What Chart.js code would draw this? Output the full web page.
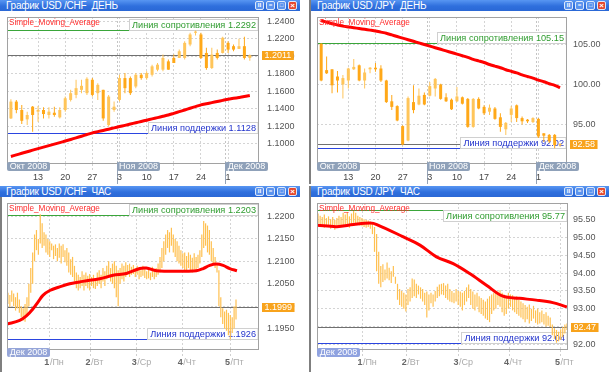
<!DOCTYPE html>
<html>
<head>
<meta charset="utf-8">
<script src="https://cdn.jsdelivr.net/npm/chart.js@4.4.1/dist/chart.umd.min.js"></script>
<style>
  body { margin: 0; background: #fff; width: 610px; height: 372px; overflow: hidden; position: relative;
         font-family: "Liberation Sans", Arial, sans-serif; }
  .panel { position: absolute; background: #fff; }
  .panel canvas { position: absolute; left: 0; top: 0; }
  .title { position: absolute; top: 0; height: 11px; line-height: 11px; font-size: 10px; letter-spacing: -0.25px; color: #fff;
           padding-left: 6px; box-sizing: border-box; white-space: pre;
           background: linear-gradient(to bottom, #5896f2 0%, #2f6fdd 55%, #2a68d6 100%); }
  .btns { position: absolute; right: 3px; top: 1px; height: 9px; letter-spacing: 0; }
  .b { display: inline-block; width: 7px; height: 7px; margin-left: 2px; border: 1px solid #dce8fb; border-radius: 2px;
       background: #5b93ee; color: #fff; font: bold 6px/7px Arial, sans-serif; text-align: center; vertical-align: top; }
  .b.x { background: #e5482e; font-size: 8px; }
  .edge { position: absolute; width: 2px; background: #7f7f7f; }
</style>
</head>
<body>

<div class="panel" style="left:0;top:0;width:303px;height:184px">
  <canvas id="chfDay" width="303" height="184"></canvas>
  <div class="title" style="left:0;width:300px">График USD /CHF  ДЕНЬ<span class="btns"><span class="b">II</span><span class="b">=</span><span class="b">□</span><span class="b x">×</span></span></div>
</div>
<div class="panel" style="left:309px;top:0;width:301px;height:184px">
  <canvas id="jpyDay" width="301" height="184"></canvas>
  <div class="title" style="left:2px;width:298px">График USD /JPY  ДЕНЬ<span class="btns"><span class="b">II</span><span class="b">=</span><span class="b">□</span><span class="b x">×</span></span></div>
</div>
<div class="panel" style="left:0;top:186px;width:303px;height:186px">
  <canvas id="chfHour" width="303" height="186"></canvas>
  <div class="title" style="left:0;width:300px">График USD /CHF  ЧАС<span class="btns"><span class="b">II</span><span class="b">=</span><span class="b">□</span><span class="b x">×</span></span></div>
</div>
<div class="panel" style="left:309px;top:186px;width:301px;height:186px">
  <canvas id="jpyHour" width="301" height="186"></canvas>
  <div class="title" style="left:2px;width:298px">График USD /JPY  ЧАС<span class="btns"><span class="b">II</span><span class="b">=</span><span class="b">□</span><span class="b x">×</span></span></div>
</div>
<div class="edge" style="left:309px;top:0;height:184px"></div>
<div class="edge" style="left:309px;top:186px;height:186px"></div>
<div class="edge" style="left:0;top:197px;height:175px"></div>

<script>
// ---- daily axis (6 Oct - 5 Dec 2008) ----
var dayTickIdx = [5, 10, 15, 20, 25, 30, 35, 40];
var dayTickLabels = ['13', '20', '27', '3', '10', '17', '24', '1'];
var dayMonthNames = ['Окт 2008', 'Ноя 2008', 'Дек 2008'];
var dayMonthStarts = [null, 19.5, 39.5];

// ---- hourly axis (1 - 5 Dec 2008) ----
var hourDayNums = ['1', '2', '3', '4', '5'];
var hourDayNames = ['/Пн', '/Вт', '/Ср', '/Чт', '/Пт'];
var hourMonthNames = ['Дек 2008'];
var hourMonthStarts = [null];

// ---- USD/CHF daily ----
var chfDayOpen  = [1.1289,1.1481,1.1385,1.1278,1.1423,1.1366,1.1385,1.1328,1.1354,1.1301,1.1385,1.1500,1.1557,1.1615,1.1577,1.1730,1.1577,1.1615,1.1213,1.1385,1.1500,1.1749,1.1749,1.1653,1.1787,1.1749,1.1787,1.1845,1.1845,1.1940,1.1979,1.1979,1.1979,1.2132,1.2266,1.2247,1.2036,1.1864,1.2036,1.2036,1.2151,1.2113,1.2082,1.2113,1.1979];
var chfDayHigh  = [1.1508,1.1500,1.1443,1.1366,1.1431,1.1431,1.1416,1.1416,1.1423,1.1416,1.1538,1.1615,1.1730,1.1730,1.1760,1.1749,1.1691,1.1615,1.1557,1.1481,1.1787,1.1807,1.1768,1.1807,1.1807,1.1826,1.1902,1.1921,1.2017,1.1960,1.2017,1.2074,1.2170,1.2266,1.2292,1.2266,1.2094,1.2094,1.2074,1.2220,1.2170,1.2132,1.2197,1.2220,1.2017];
var chfDayLow   = [1.1282,1.1347,1.1224,1.1213,1.1136,1.1251,1.1289,1.1289,1.1308,1.1289,1.1366,1.1481,1.1519,1.1577,1.1557,1.1538,1.1500,1.1262,1.1201,1.1366,1.1481,1.1577,1.1557,1.1634,1.1730,1.1730,1.1768,1.1826,1.1826,1.1845,1.1921,1.1979,1.1960,1.2113,1.2235,1.1967,1.1845,1.1852,1.1960,1.2029,1.2036,1.2055,1.2082,1.1960,1.1948];
var chfDayClose = [1.1481,1.1385,1.1262,1.1328,1.1328,1.1385,1.1339,1.1366,1.1328,1.1385,1.1519,1.1577,1.1634,1.1661,1.1741,1.1557,1.1672,1.1289,1.1538,1.1423,1.1749,1.1634,1.1577,1.1787,1.1749,1.1807,1.1883,1.1902,1.1979,1.1845,1.1921,1.2055,1.2151,1.2247,1.2280,1.1979,1.1864,1.2017,1.1979,1.2209,1.2074,1.2074,1.2113,1.1979,1.2011];
var chfDaySma   = [1.0855,1.0873,1.0891,1.0909,1.0927,1.0945,1.0962,1.0979,1.0996,1.1013,1.1031,1.1049,1.1067,1.1086,1.1105,1.1124,1.1138,1.1152,1.1166,1.1181,1.1196,1.1210,1.1225,1.1240,1.1254,1.1269,1.1284,1.1298,1.1313,1.1328,1.1347,1.1366,1.1385,1.1405,1.1424,1.1443,1.1456,1.1469,1.1482,1.1495,1.1508,1.1518,1.1528,1.1538,1.1550];
var chfDayTicks = [1.10, 1.12, 1.14, 1.16, 1.18, 1.20, 1.22, 1.24];
var chfDayLevels = [1.2292, 1.1128, 1.2011];   // resistance, support, last

// ---- USD/JPY daily ----
var jpyDayOpen  = [105.10,101.80,101.90,101.00,100.00,100.50,101.90,102.40,100.50,101.90,102.10,102.00,100.50,97.90,97.30,94.80,93.00,97.80,97.50,98.70,98.60,99.50,100.00,98.40,98.10,97.90,98.40,98.20,94.70,98.20,97.20,96.60,97.00,95.90,94.40,96.20,97.40,95.80,95.60,95.30,95.70,93.90,93.70,93.70,92.40];
var jpyDayHigh  = [105.15,103.50,101.90,101.70,101.20,102.10,103.20,102.50,102.00,102.20,102.70,102.40,100.60,98.70,97.40,94.90,98.50,99.90,99.50,99.00,100.30,100.80,100.10,98.90,98.25,99.70,98.50,98.30,98.30,98.40,97.40,97.50,97.20,96.40,95.30,97.30,97.50,96.00,95.70,95.90,95.80,93.90,93.80,93.80,92.70];
var jpyDayLow   = [100.40,101.30,98.90,99.00,98.25,99.50,101.80,100.40,99.50,101.40,101.60,100.30,97.70,96.80,95.40,92.40,92.90,96.40,97.40,97.40,98.50,98.50,98.10,97.80,96.80,97.80,97.50,94.60,94.60,96.90,96.20,96.20,95.60,94.10,93.70,95.30,95.30,95.00,95.20,95.20,93.30,92.80,92.70,92.02,92.20];
var jpyDayClose = [100.50,101.40,99.90,100.50,100.80,102.00,102.20,100.50,101.50,102.10,101.90,100.50,97.80,97.20,95.50,92.50,98.30,96.80,98.60,97.50,99.80,100.70,98.20,97.90,96.90,98.50,97.60,94.70,98.20,97.00,96.40,97.10,95.70,94.70,95.20,97.00,95.80,95.40,95.40,95.80,93.50,93.60,92.90,92.40,92.58];
var jpyDaySma   = [108.0,107.8,107.6,107.45,107.3,107.2,107.1,107.0,106.9,106.8,106.7,106.55,106.4,106.2,106.0,105.8,105.6,105.4,105.2,105.0,104.8,104.6,104.4,104.2,104.0,103.8,103.6,103.4,103.15,102.95,102.75,102.5,102.3,102.1,101.85,101.65,101.45,101.2,101.0,100.8,100.55,100.35,100.1,99.9,99.6];
var jpyDayTicks = [95, 100, 105];
var jpyDayLevels = [105.15, 92.02, 92.58];

// ---- USD/CHF hourly ----
var chfHourHigh = [1.2030,1.2025,1.2035,1.2028,1.2020,1.2030,1.2015,1.2000,1.1995,1.2005,1.2020,1.2050,1.2085,1.2120,1.2160,1.2170,1.2150,1.2205,1.2185,1.2165,
                   1.2160,1.2150,1.2145,1.2140,1.2135,1.2138,1.2130,1.2140,1.2135,1.2138,1.2125,1.2130,1.2120,1.2105,1.2110,1.2090,1.2075,1.2070,1.2065,1.2078,
                   1.2070,1.2075,1.2068,1.2072,1.2065,1.2070,1.2062,1.2075,1.2080,1.2070,1.2085,1.2078,1.2090,1.2100,1.2085,1.2095,1.2100,1.2090,1.2080,1.2085,
                   1.2095,1.2090,1.2098,1.2092,1.2095,1.2088,1.2092,1.2085,1.2090,1.2085,1.2080,1.2090,1.2085,1.2078,1.2082,1.2075,1.2088,1.2080,1.2085,1.2095,
                   1.2110,1.2130,1.2145,1.2160,1.2170,1.2165,1.2175,1.2160,1.2150,1.2145,1.2135,1.2125,1.2118,1.2120,1.2112,1.2120,1.2115,1.2108,1.2118,1.2110,
                   1.2115,1.2125,1.2160,1.2190,1.2185,1.2180,1.2170,1.2145,1.2130,1.2110,1.2095,1.2080,1.2020,1.1995,1.1988,1.1992,1.1985,1.1980,1.1975,1.2000,1.2015];
var chfHourLow  = [1.2005,1.1998,1.2010,1.2000,1.1990,1.1995,1.1985,1.1975,1.1968,1.1965,1.1980,1.2000,1.2030,1.2050,1.2100,1.2125,1.2115,1.2140,1.2130,1.2135,
                   1.2120,1.2115,1.2110,1.2125,1.2105,1.2112,1.2100,1.2108,1.2095,1.2110,1.2098,1.2090,1.2075,1.2070,1.2065,1.2055,1.2040,1.2035,1.2040,1.2045,
                   1.2035,1.2045,1.2040,1.2035,1.2045,1.2040,1.2038,1.2045,1.2050,1.2040,1.2055,1.2045,1.2060,1.2065,1.2055,1.2050,1.2040,1.2020,1.2000,1.2050,
                   1.2060,1.2055,1.2065,1.2070,1.2065,1.2070,1.2072,1.2065,1.2070,1.2060,1.2065,1.2068,1.2063,1.2060,1.2062,1.2058,1.2065,1.2060,1.2065,1.2070,
                   1.2075,1.2085,1.2100,1.2115,1.2130,1.2120,1.2135,1.2120,1.2110,1.2100,1.2095,1.2090,1.2085,1.2080,1.2078,1.2085,1.2080,1.2075,1.2082,1.2078,
                   1.2085,1.2095,1.2110,1.2130,1.2135,1.2120,1.2115,1.2100,1.2095,1.2085,1.2075,1.2000,1.1975,1.1960,1.1950,1.1945,1.1935,1.1926,1.1940,1.1950,1.1970];
var chfHourSmaX = [0, 6.7, 10.2, 13.7, 16.3, 18.9, 22.5, 27.7, 33, 38.2, 43.5, 48.8, 55.8, 62.8, 69.8, 73.3, 78.6, 83.9, 94.4, 99.6, 103.2, 106.7, 110.2, 113.7, 117.2, 121];
var chfHourSmaY = [1.1960,1.1968,1.1978,1.1994,1.2009,1.2024,1.2035,1.2043,1.2050,1.2054,1.2058,1.2061,1.2069,1.2073,1.2084,1.2085,1.2079,1.2078,1.2078,1.2079,1.2084,1.2091,1.2094,1.2091,1.2084,1.2079];
var chfHourTicks = [1.195, 1.200, 1.205, 1.210, 1.215, 1.220];
var chfHourDays = [22.3, 44, 68.3, 92.5, 117.4];
var chfHourLevels = [1.2203, 1.1926, 1.1999];

// ---- USD/JPY hourly ----
var jpyHourHigh = [95.68,95.62,95.58,95.65,95.55,95.60,95.52,95.58,95.50,95.55,95.62,95.58,95.70,95.65,95.72,95.60,95.68,95.75,95.70,95.62,
                   95.58,95.55,95.52,95.50,95.48,95.45,95.40,95.30,95.10,94.60,94.20,94.25,94.10,94.30,94.15,94.05,94.20,93.90,93.70,93.55,
                   93.50,93.45,93.40,93.55,93.60,93.85,93.82,93.70,93.65,93.60,93.55,93.45,93.48,93.40,93.45,93.40,93.50,93.62,93.68,93.70,
                   93.72,93.65,93.70,93.55,93.50,93.45,93.55,93.50,93.48,93.45,93.50,93.60,93.68,93.55,93.48,93.40,93.45,93.35,93.30,93.25,
                   93.20,93.28,93.35,93.40,93.45,93.50,93.48,93.52,93.45,93.40,93.35,93.45,93.40,93.38,93.30,93.35,93.25,93.20,93.15,93.10,
                   93.05,93.12,93.00,93.08,92.95,93.00,92.90,92.95,92.85,92.90,92.80,92.75,92.55,92.45,92.40,92.35,92.42,92.48,92.55,92.58];
var jpyHourLow  = [95.40,95.30,95.35,95.28,95.30,95.32,95.25,95.30,95.22,95.28,95.33,95.30,95.35,95.30,95.38,95.28,95.35,95.42,95.40,95.36,
                   95.34,95.32,95.30,95.28,95.30,95.25,95.10,94.60,94.05,93.70,93.60,93.75,93.80,93.85,93.80,93.72,93.90,93.70,93.25,93.10,
                   93.05,93.00,92.92,93.10,93.20,93.30,93.35,93.30,93.40,93.28,93.20,93.10,92.75,92.95,93.15,93.05,93.20,93.30,93.35,93.40,
                   93.38,93.30,93.25,93.20,93.18,93.15,93.20,93.10,93.05,92.95,93.10,93.20,93.30,93.10,93.00,92.95,93.05,92.90,92.85,92.80,
                   92.72,92.68,92.62,92.85,92.95,93.00,93.10,93.05,92.90,92.80,92.85,93.00,93.05,92.95,92.90,92.85,92.80,92.75,92.70,92.62,
                   92.70,92.58,92.65,92.72,92.60,92.55,92.58,92.62,92.55,92.50,92.52,92.48,92.25,92.15,92.04,92.08,92.12,92.20,92.30,92.40];
var jpyHourSmaX = [0, 9.5, 17.5, 25.4, 28.6, 41.3, 49.2, 57.1, 65.1, 73, 81, 88.9, 96.8, 104.8, 112.7, 119.5];
var jpyHourSmaY = [95.35,95.31,95.37,95.41,95.37,95.02,94.79,94.46,94.27,93.99,93.66,93.35,93.29,93.24,93.17,93.05];
var jpyHourTicks = [92.0, 92.5, 93.0, 93.5, 94.0, 94.5, 95.0, 95.5];
var jpyHourDays = [21.7, 42.9, 67.6, 91.8, 116.2];
var jpyHourLevels = [95.77, 92.04, 92.47];

var FONT = '"Liberation Sans", Arial, sans-serif';
Chart.defaults.font.family = FONT;

// horizontal level line across the plot
function levelLine(ctx, ca, ys, v, color) {
    var y = Math.round(ys.getPixelForValue(v)) + 0.5;
    ctx.strokeStyle = color;
    ctx.lineWidth = 1;
    ctx.beginPath();
    ctx.moveTo(ca.left, y);
    ctx.lineTo(ca.right, y);
    ctx.stroke();
}

// boxed caption at the right end of a level line
function levelCaption(ctx, ca, ys, text, v, color) {
    var y = Math.round(ys.getPixelForValue(v)) + 0.5;
    ctx.font = '9.2px ' + FONT;
    var w = ctx.measureText(text).width;
    var bx = Math.round(ca.right - w - 6) + 0.5;
    var below = (y - ca.top) < 12;
    var top = below ? y : y - 11;
    ctx.fillStyle = '#fff';
    ctx.fillRect(bx, top, ca.right - bx, 11);
    ctx.strokeStyle = '#d0d0d0';
    ctx.strokeRect(bx, top, ca.right - bx - 1, 11);
    ctx.fillStyle = color;
    ctx.textAlign = 'left';
    ctx.textBaseline = 'middle';
    ctx.fillText(text, ca.right - w - 3, top + 6);
}

function makeChart(id, c) {
    var canvas = document.getElementById(id);
    var W = canvas.width, H = canvas.height;
    var datasets = [];
    var smaData = c.smaX
        ? c.smaX.map(function (x, i) { return { x: x, y: c.smaY[i] }; })
        : c.smaY.map(function (y, i) { return { x: i, y: y }; });
    datasets.push({
        type: 'line', data: smaData, borderColor: '#ff0000', borderWidth: 3,
        pointRadius: 0, tension: c.smaX ? 0.35 : 0.2, order: 0
    });

    if (c.open) {
        var colors = c.open.map(function (o, i) { return c.close[i] >= o ? '#ffc55a' : '#ffa818'; });
        datasets.push({
            data: c.open.map(function (o, i) { return { x: i, y: [o, c.close[i]] }; }),
            backgroundColor: colors, grouped: false, barPercentage: 1, maxBarThickness: 3,
            minBarLength: 1, order: 1
        });
        datasets.push({
            data: c.high.map(function (h, i) { return { x: i, y: [c.low[i], h] }; }),
            backgroundColor: colors, grouped: false, barPercentage: 1, maxBarThickness: 1, order: 2
        });
    } else {
        datasets.push({
            data: c.high.map(function (h, i) { return { x: i + 0.5, y: [c.low[i], h] }; }),
            backgroundColor: '#ffc050', grouped: false, barPercentage: 1, maxBarThickness: 1.2, order: 1
        });
    }

    var overlay = {
        id: 'overlay',
        beforeDatasetsDraw: function (chart) {
            var ctx = chart.ctx, ca = chart.chartArea, ys = chart.scales.y, xs = chart.scales.x;
            ctx.save();
            // month splits inside the plot
            c.monthStarts.forEach(function (m) {
                if (m === null) return;
                var x = Math.round(xs.getPixelForValue(m)) + 0.5;
                ctx.strokeStyle = '#c4c4c4';
                ctx.setLineDash([2, 2]);
                ctx.beginPath(); ctx.moveTo(x, ca.top); ctx.lineTo(x, ca.bottom); ctx.stroke();
                ctx.setLineDash([]);
            });
            levelLine(ctx, ca, ys, c.levels[2], '#707070');
            levelLine(ctx, ca, ys, c.levels[0], '#3aa63a');
            levelLine(ctx, ca, ys, c.levels[1], '#2b45e0');
            levelCaption(ctx, ca, ys, 'Линия сопротивления ' + c.levels[0].toFixed(c.dec), c.levels[0], '#2f9c2f');
            levelCaption(ctx, ca, ys, 'Линия поддержки ' + c.levels[1].toFixed(c.dec), c.levels[1], '#2233cc');
            ctx.restore();
        },
        afterDraw: function (chart) {
            var ctx = chart.ctx, ca = chart.chartArea, ys = chart.scales.y, xs = chart.scales.x;
            ctx.save();
            // plot frame
            ctx.strokeStyle = '#a2a2a2';
            ctx.lineWidth = 1;
            ctx.strokeRect(ca.left + 0.5, ca.top + 0.5, ca.right - ca.left - 1, ca.bottom - ca.top - 1);

            // indicator name
            ctx.font = '8.2px ' + FONT;
            ctx.fillStyle = '#ff2a2a';
            ctx.textAlign = 'left';
            ctx.textBaseline = 'middle';
            ctx.fillText('Simple_Moving_Average', ca.left + 2, ca.top + 6);

            // last price badge
            var last = c.levels[2];
            var py = Math.round(ys.getPixelForValue(last));
            var pt = last.toFixed(c.dec);
            ctx.font = '9px ' + FONT;
            var pw = ctx.measureText(pt).width + 5;
            ctx.fillStyle = '#f8a31c';
            ctx.fillRect(ca.right + 3, py - 4, pw, 9);
            ctx.fillStyle = '#fff';
            ctx.fillText(pt, ca.right + 5.5, py + 0.5);

            // month badges
            c.monthNames.forEach(function (name, i) {
                var m = c.monthStarts[i];
                var x = m === null ? ca.left : Math.round(xs.getPixelForValue(m));
                var top = ca.bottom - 2;
                if (m !== null) {
                    ctx.strokeStyle = '#95a3b6';
                    ctx.beginPath(); ctx.moveTo(x + 0.5, top); ctx.lineTo(x + 0.5, H); ctx.stroke();
                }
                ctx.fillStyle = c.badge;
                ctx.beginPath();
                ctx.roundRect(x, top, 43, 9, 2);
                ctx.fill();
                ctx.fillStyle = '#fff';
                ctx.font = '9px ' + FONT;
                ctx.textAlign = 'center';
                ctx.fillText(name, x + 21.5, top + 5);
            });

            // x labels
            var ly = ca.bottom + 14;
            if (c.dayLabels) {
                ctx.font = '9px ' + FONT;
                ctx.fillStyle = '#444';
                ctx.textAlign = 'center';
                c.xTicks.forEach(function (t, i) {
                    ctx.fillText(c.dayLabels[i], xs.getPixelForValue(t), ly);
                });
            } else {
                ctx.textAlign = 'left';
                c.xTicks.forEach(function (t, i) {
                    var x = xs.getPixelForValue(t);
                    ctx.font = 'bold 9px ' + FONT;
                    var nw = ctx.measureText(hourDayNums[i]).width;
                    ctx.fillStyle = '#666';
                    ctx.fillText(hourDayNums[i], x - nw, ly - 1);
                    ctx.font = '9px ' + FONT;
                    ctx.fillStyle = '#aaa';
                    ctx.fillText(hourDayNames[i], x + 0.5, ly - 1);
                });
            }
            ctx.restore();
        }
    };

    return new Chart(canvas, {
        type: 'bar',
        data: { datasets: datasets },
        options: {
            responsive: false,
            animation: false,
            devicePixelRatio: 1,
            events: [],
            layout: { padding: { left: c.plot[0], top: 17, right: 0, bottom: 0 } },
            plugins: { legend: { display: false }, tooltip: { enabled: false } },
            scales: {
                x: {
                    type: 'linear', min: c.xRange[0], max: c.xRange[1], offset: false,
                    grid: { offset: false, color: '#d4d4d4', drawTicks: true, tickLength: 8,
                            tickColor: '#d0d0d0', tickBorderDash: [2, 2] },
                    border: { display: false, dash: [2, 2] },
                    ticks: { display: false },
                    afterBuildTicks: function (s) { s.ticks = c.xTicks.map(function (v) { return { value: v }; }); },
                    afterFit: function (s) { s.height = H - 164; }
                },
                y: {
                    type: 'linear', position: 'right', min: c.yRange[0], max: c.yRange[1],
                    grid: { color: '#d4d4d4', drawTicks: false },
                    border: { display: false, dash: [2, 2] },
                    ticks: { color: '#555', font: { size: 9 }, padding: c.tickPad, autoSkip: false,
                             callback: function (v) { return Number(v).toFixed(c.dec); } },
                    afterBuildTicks: function (s) { s.ticks = c.yTicks.map(function (v) { return { value: v }; }); },
                    afterFit: function (s) { s.width = W - c.plot[1]; }
                }
            }
        },
        plugins: [overlay]
    });
}

makeChart('chfDay', {
    open: chfDayOpen, high: chfDayHigh, low: chfDayLow, close: chfDayClose, smaY: chfDaySma,
    levels: chfDayLevels, yTicks: chfDayTicks, dec: 4, yRange: [1.0769, 1.2446],
    xRange: [-0.72, 45.69], xTicks: dayTickIdx, dayLabels: dayTickLabels,
    monthNames: dayMonthNames, monthStarts: dayMonthStarts, badge: '#8fa1b9',
    plot: [7, 259], tickPad: 8
});
makeChart('jpyDay', {
    open: jpyDayOpen, high: jpyDayHigh, low: jpyDayLow, close: jpyDayClose, smaY: jpyDaySma,
    levels: jpyDayLevels, yTicks: jpyDayTicks, dec: 2, yRange: [90.06, 108.44],
    xRange: [-0.77, 45.27], xTicks: dayTickIdx, dayLabels: dayTickLabels,
    monthNames: dayMonthNames, monthStarts: dayMonthStarts, badge: '#8fa1b9',
    plot: [8, 258], tickPad: 6
});
makeChart('chfHour', {
    high: chfHourHigh, low: chfHourLow, smaX: chfHourSmaX, smaY: chfHourSmaY,
    levels: chfHourLevels, yTicks: chfHourTicks, dec: 4, yRange: [1.19020, 1.22304],
    xRange: [0, 132.6], xTicks: chfHourDays,
    monthNames: hourMonthNames, monthStarts: hourMonthStarts, badge: '#95a5d8',
    plot: [7, 259], tickPad: 8
});
makeChart('jpyHour', {
    high: jpyHourHigh, low: jpyHourLow, smaX: jpyHourSmaX, smaY: jpyHourSmaY,
    levels: jpyHourLevels, yTicks: jpyHourTicks, dec: 2, yRange: [91.835, 95.976],
    xRange: [0, 120], xTicks: jpyHourDays,
    monthNames: hourMonthNames, monthStarts: hourMonthStarts, badge: '#8fa2e0',
    plot: [8, 259], tickPad: 5
});
</script>
</body>
</html>
